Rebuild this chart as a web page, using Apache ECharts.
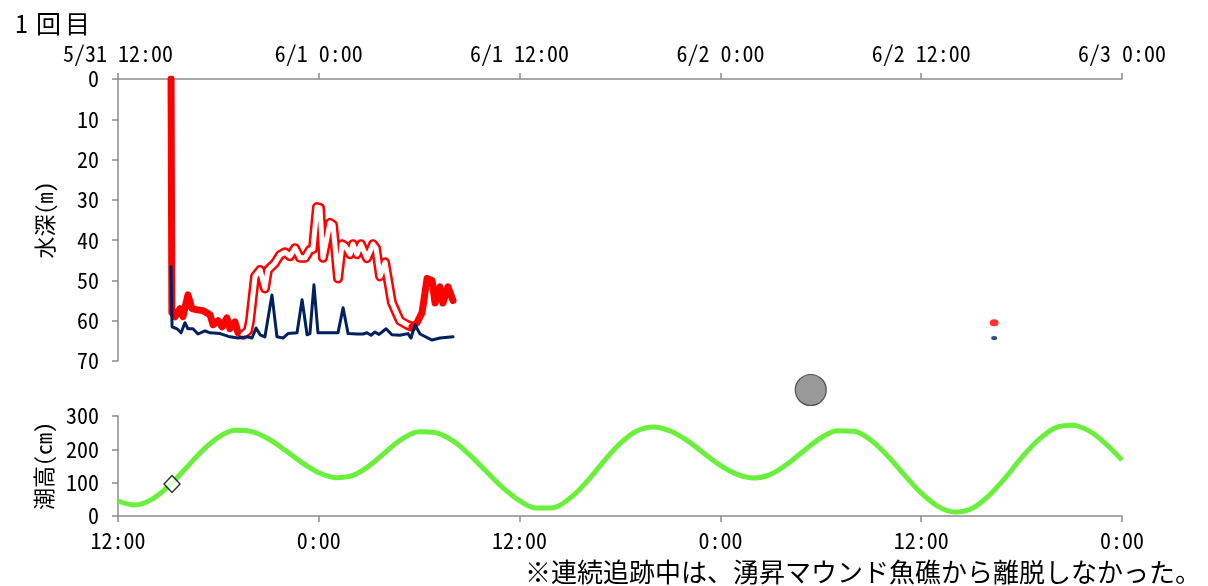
<!DOCTYPE html>
<html>
<head>
<meta charset="utf-8">
<script src="https://cdn.jsdelivr.net/npm/echarts@6/dist/echarts.min.js"></script>
<style>
  html, body { margin: 0; padding: 0; background: #fff; }
  #chart { width: 1208px; height: 586px; }
</style>
</head>
<body>
<div id="chart"></div>
<script>
// Time is counted in hours from 5/31 12:00.
const timeLabelsTop = ['5/31 12:00', '6/1 0:00', '6/1 12:00', '6/2 0:00', '6/2 12:00', '6/3 0:00'];
const timeLabelsBottom = ['12:00', '0:00', '12:00', '0:00', '12:00', '0:00'];
const depthTicks = [0, 10, 20, 30, 40, 50, 60, 70];
const tideTicks = [0, 100, 200, 300];

// Hourly tide height (cm)
const tideHours = [0,1,2,3,4,5,6,7,8,9,10,11,12,13,14,15,16,17,18,19,20,21,22,23,24,25,26,27,28,29,30,
  31,32,33,34,35,36,37,38,39,40,41,42,43,44,45,46,47,48,49,50,51,52,53,54,55,56,57,58,59,60];
const tideCm = [45,33,49,88,140,194,236,257,253,231,197,160,130,115,121,150,192,232,253,250,226,
  184,134,85,46,24,25,53,102,162,217,255,267,255,227,189,152,125,114,125,156,196,234,256,254,227,
  180,123,69,29,12,22,59,113,175,228,264,272,256,218,168];

// Fish swimming depth (m): release and first hours
const fishDepthEarly = [
  [3.17,0],[3.22,58],[3.41,59],[3.71,57],[3.88,59],[4.18,53.6],[4.42,57],[4.72,57.3],[5.08,57.5],
  [5.50,58.5],[5.68,61],[5.98,60],[6.22,61.5],[6.51,59.3],[6.69,62],[6.99,60.3],[7.17,63],[7.47,63.5]
];
// Fish swimming depth (m): night period
const fishDepthNight = [
  [7.47,63.5],[7.77,62.5],[7.89,60],[8.19,49],[8.49,47.4],[8.78,52],[8.96,47.4],[9.38,45.7],
  [9.68,43.7],[9.98,43],[10.28,44],[10.58,42],[10.88,44.4],[11.18,44.4],[11.47,42.4],[11.65,42.2],
  [11.89,31.8],[12.07,32],[12.25,44.4],[12.67,35.7],[12.85,36.2],[13.15,49.5],[13.39,41],[13.57,41.5],
  [13.87,43.5],[14.04,41],[14.28,43.5],[14.52,41],[14.88,44.5],[15.24,41],[15.42,42],[15.66,49],
  [15.96,45.5],[16.37,55.5],[16.85,60],[17.27,61],[17.57,61.5]
];
// Fish swimming depth (m): morning
const fishDepthMorning = [
  [17.57,61.5],[17.87,60.5],[18.17,58],[18.47,49.5],[18.77,50],[18.95,55.6],[19.24,51.6],
  [19.42,55.6],[19.72,51.6],[20.02,55]
];
// Bottom depth (m) at the fish position
const bottomDepth = [
  [3.17,46.6],[3.23,61.5],[3.53,62],[3.77,63],[4.00,60.5],[4.18,62],[4.48,62],[4.78,63.3],[5.20,62.5],
  [5.50,63],[6.10,63.2],[6.69,64],[7.17,64.3],[7.71,64],[8.01,64.3],[8.25,61.8],[8.49,63.5],[8.78,64],
  [9.20,53.6],[9.50,64],[9.86,64.3],[10.16,63.2],[10.70,63],[11.00,54.8],[11.30,63.5],[11.47,63.2],
  [11.71,51.1],[11.95,63],[12.49,63],[13.15,63],[13.45,56.8],[13.75,63.2],[14.28,63.3],[14.64,63.3],
  [14.88,63],[15.12,63.6],[15.36,62.8],[15.60,63.4],[16.02,62],[16.37,63.5],[16.85,63.6],[17.33,63.2],
  [17.51,64.3],[17.75,61],[18.05,63.3],[18.77,64.8],[19.24,64.3],[20.02,64]
];
// Later single fix
const fishDepthLaterFix = [[52.36,60.5]];
const bottomDepthLaterFix = [[52.36,64.3]];

// Release time on the tide curve
const releaseMark = [[3.23,96]];
// Moon marker
const moonMark = [[41.4,378]];

const FONT = '"Noto Sans Mono CJK JP", "Noto Sans CJK JP", "DejaVu Sans Mono", monospace';
const AXIS_COLOR = '#8c8c8c';

const chart = echarts.init(document.getElementById('chart'), null, { renderer: 'canvas' });

const axisLabelStyle = { color: '#000', fontFamily: FONT, fontSize: 22 };

chart.setOption({
  animation: false,
  backgroundColor: '#fff',
  title: [
    {
      text: '{n|1}{k|回}{k|目}',
      left: 4, top: 6,
      textStyle: {
        fontWeight: 'normal',
        rich: {
          n: { fontFamily: FONT, fontSize: 25, fontWeight: 'normal', color: '#000', width: 25, align: 'center' },
          k: { fontFamily: FONT, fontSize: 25, fontWeight: 'normal', color: '#000', width: 29, align: 'center' }
        }
      }
    },
    {
      text: '※連続追跡中は、湧昇マウンド魚礁から離脱しなかった。',
      right: 2, top: 554,
      textStyle: { fontFamily: FONT, fontSize: 26, fontWeight: 'normal', color: '#000' }
    }
  ],
  grid: [
    { left: 118, top: 79, width: 1004, height: 282 },
    { left: 118, top: 416, width: 1004, height: 100 }
  ],
  xAxis: [
    {
      gridIndex: 0, type: 'value', position: 'top', min: 0, max: 60, interval: 12,
      axisLine: { show: true, onZero: false, lineStyle: { color: AXIS_COLOR, width: 1.5 } },
      axisTick: { show: true, length: 6, lineStyle: { color: AXIS_COLOR, width: 1.5 } },
      splitLine: { show: false },
      axisLabel: Object.assign({}, axisLabelStyle, {
        margin: 14,
        formatter: v => timeLabelsTop[Math.round(v / 12)]
      })
    },
    {
      gridIndex: 1, type: 'value', position: 'bottom', min: 0, max: 60, interval: 12,
      axisLine: { show: true, onZero: false, lineStyle: { color: AXIS_COLOR, width: 1.5 } },
      axisTick: { show: true, length: 6, lineStyle: { color: AXIS_COLOR, width: 1.5 } },
      splitLine: { show: false },
      axisLabel: Object.assign({}, axisLabelStyle, {
        margin: 14,
        formatter: v => timeLabelsBottom[Math.round(v / 12)]
      })
    }
  ],
  yAxis: [
    {
      gridIndex: 0, type: 'value', inverse: true,
      min: depthTicks[0], max: depthTicks[depthTicks.length - 1], interval: 10,
      name: '水深(m)', nameLocation: 'middle', nameRotate: 90, nameGap: 62,
      nameTextStyle: { fontFamily: FONT, fontSize: 22, color: '#000' },
      axisLine: { show: true, lineStyle: { color: AXIS_COLOR, width: 1.5 } },
      axisTick: { show: true, length: 6, lineStyle: { color: AXIS_COLOR, width: 1.5 } },
      splitLine: { show: false },
      axisLabel: Object.assign({}, axisLabelStyle, { margin: 19 })
    },
    {
      gridIndex: 1, type: 'value',
      min: tideTicks[0], max: tideTicks[tideTicks.length - 1], interval: 100,
      name: '潮高(cm)', nameLocation: 'middle', nameRotate: 90, nameGap: 62,
      nameTextStyle: { fontFamily: FONT, fontSize: 22, color: '#000' },
      axisLine: { show: true, lineStyle: { color: AXIS_COLOR, width: 1.5 } },
      axisTick: { show: true, length: 6, lineStyle: { color: AXIS_COLOR, width: 1.5 } },
      splitLine: { show: false },
      axisLabel: Object.assign({}, axisLabelStyle, { margin: 19 })
    }
  ],
  series: [
    {
      name: '遊泳水深', type: 'line', xAxisIndex: 0, yAxisIndex: 0,
      data: fishDepthEarly, showSymbol: false, smooth: false,
      lineStyle: { color: '#ff0000', width: 7, cap: 'round', join: 'round' }
    },
    {
      name: '遊泳水深(夜間)', type: 'line', xAxisIndex: 0, yAxisIndex: 0,
      data: fishDepthNight, showSymbol: false,
      lineStyle: { color: '#ff0000', width: 10, cap: 'round', join: 'round' }
    },
    {
      name: '遊泳水深(夜間)内側', type: 'line', xAxisIndex: 0, yAxisIndex: 0,
      data: fishDepthNight, showSymbol: false,
      lineStyle: { color: '#ffffff', width: 5, cap: 'round', join: 'round' }
    },
    {
      name: '遊泳水深(朝)', type: 'line', xAxisIndex: 0, yAxisIndex: 0,
      data: fishDepthMorning, showSymbol: false,
      lineStyle: { color: '#ff0000', width: 7, cap: 'round', join: 'round' }
    },
    {
      name: '遊泳水深(後)', type: 'scatter', xAxisIndex: 0, yAxisIndex: 0,
      data: fishDepthLaterFix, symbol: 'circle', symbolSize: [9, 7],
      itemStyle: { color: '#ff0000' }
    },
    {
      name: '海底水深', type: 'line', xAxisIndex: 0, yAxisIndex: 0,
      data: bottomDepth, showSymbol: false,
      lineStyle: { color: '#002060', width: 3, cap: 'round', join: 'round' }
    },
    {
      name: '海底水深(後)', type: 'scatter', xAxisIndex: 0, yAxisIndex: 0,
      data: bottomDepthLaterFix, symbol: 'circle', symbolSize: [6, 4],
      itemStyle: { color: '#002060' }
    },
    {
      name: '潮高', type: 'line', xAxisIndex: 1, yAxisIndex: 1,
      data: tideHours.map((h, i) => [h, tideCm[i]]),
      showSymbol: false, smooth: 0.35,
      lineStyle: { color: '#6af03c', width: 5, join: 'round' }
    },
    {
      name: '放流', type: 'scatter', xAxisIndex: 1, yAxisIndex: 1,
      data: releaseMark, symbol: 'diamond', symbolSize: [16, 17],
      itemStyle: { color: '#ffffff', borderColor: '#000', borderWidth: 1.5 },
      z: 5
    },
    {
      name: '月', type: 'scatter', xAxisIndex: 1, yAxisIndex: 1,
      data: moonMark, symbol: 'circle', symbolSize: 31, clip: false,
      itemStyle: { color: '#808080', borderColor: '#333', borderWidth: 1.2 }
    }
  ]
});
</script>
</body>
</html>
